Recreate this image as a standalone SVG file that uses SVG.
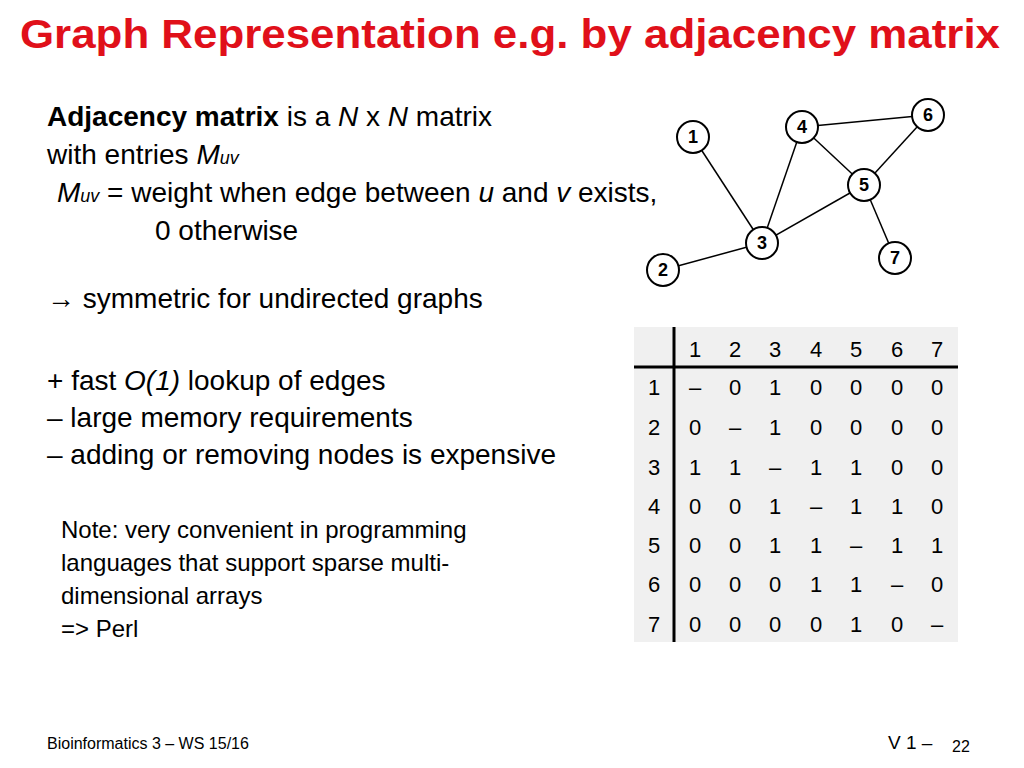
<svg xmlns="http://www.w3.org/2000/svg" width="1024" height="768" viewBox="0 0 1024 768">
<style>
text{font-family:"Liberation Sans",Arial,sans-serif;fill:#000}
.b{font-size:28px}
.s{font-size:24px}
.m{font-size:22px;text-anchor:middle}
.n circle{fill:#fff;stroke:#000;stroke-width:2}
.n text{font-size:18px;font-weight:bold;text-anchor:middle}
</style>
<rect width="1024" height="768" fill="#fff"/>
<text x="20" y="48" font-size="40" font-weight="bold" textLength="980" lengthAdjust="spacingAndGlyphs" style="fill:#e0101a">Graph Representation e.g. by adjacency matrix</text>
<text class="b" x="47" y="126"><tspan font-weight="bold">Adjacency matrix</tspan> is a <tspan font-style="italic">N</tspan> x <tspan font-style="italic">N</tspan> matrix</text>
<text class="b" x="47" y="164">with entries <tspan font-style="italic">M</tspan><tspan font-style="italic" font-size="18">uv</tspan></text>
<text class="b" x="57" y="202"><tspan font-style="italic">M</tspan><tspan font-style="italic" font-size="18">uv</tspan> = weight when edge between <tspan font-style="italic">u</tspan> and <tspan font-style="italic">v</tspan> exists,</text>
<text class="b" x="155" y="240">0 otherwise</text>
<text class="b" x="47" y="308">→ symmetric for undirected graphs</text>
<text class="b" x="47" y="390">+ fast <tspan font-style="italic">O(1)</tspan> lookup of edges</text>
<text class="b" x="47" y="427">– large memory requirements</text>
<text class="b" x="47" y="464">– adding or removing nodes is expensive</text>
<text class="s" x="61" y="538">Note: very convenient in programming</text>
<text class="s" x="61" y="571">languages that support sparse multi-</text>
<text class="s" x="61" y="604">dimensional arrays</text>
<text class="s" x="61" y="637">=&gt; Perl</text>
<text x="47" y="749" font-size="16">Bioinformatics 3 – WS 15/16</text>
<text x="888" y="749" font-size="19">V 1 –</text>
<text x="952" y="752" font-size="16">22</text>
<g id="edges" stroke="#000" stroke-width="1.5">
<line x1="693" y1="137" x2="762" y2="243"/>
<line x1="663" y1="270" x2="762" y2="243"/>
<line x1="802" y1="127" x2="762" y2="243"/>
<line x1="864" y1="185" x2="762" y2="243"/>
<line x1="802" y1="127" x2="864" y2="185"/>
<line x1="802" y1="127" x2="928" y2="115"/>
<line x1="928" y1="115" x2="864" y2="185"/>
<line x1="864" y1="185" x2="895" y2="258"/>
</g>
<g id="n1" class="n"><circle cx="693" cy="137" r="16"/><text x="693" y="143">1</text></g>
<g id="n2" class="n"><circle cx="663" cy="270" r="16"/><text x="663" y="276">2</text></g>
<g id="n3" class="n"><circle cx="762" cy="243" r="16"/><text x="762" y="249">3</text></g>
<g id="n4" class="n"><circle cx="802" cy="127" r="16"/><text x="802" y="133">4</text></g>
<g id="n5" class="n"><circle cx="864" cy="185" r="16"/><text x="864" y="191">5</text></g>
<g id="n6" class="n"><circle cx="928" cy="115" r="16"/><text x="928" y="121">6</text></g>
<g id="n7" class="n"><circle cx="895" cy="258" r="16"/><text x="895" y="264">7</text></g>
<g id="matrix">
<rect x="634" y="327" width="324" height="315" fill="#f0f0f0"/>
<line x1="674" y1="327" x2="674" y2="642" stroke="#000" stroke-width="3"/>
<line x1="634" y1="367" x2="958" y2="367" stroke="#000" stroke-width="3"/>
<text class="m" x="695" y="357">1</text><text class="m" x="735" y="357">2</text><text class="m" x="775" y="357">3</text><text class="m" x="816" y="357">4</text><text class="m" x="856" y="357">5</text><text class="m" x="897" y="357">6</text><text class="m" x="937" y="357">7</text>
<text class="m" x="654" y="395">1</text><text class="m" x="695" y="395">–</text><text class="m" x="735" y="395">0</text><text class="m" x="775" y="395">1</text><text class="m" x="816" y="395">0</text><text class="m" x="856" y="395">0</text><text class="m" x="897" y="395">0</text><text class="m" x="937" y="395">0</text>
<text class="m" x="654" y="435">2</text><text class="m" x="695" y="435">0</text><text class="m" x="735" y="435">–</text><text class="m" x="775" y="435">1</text><text class="m" x="816" y="435">0</text><text class="m" x="856" y="435">0</text><text class="m" x="897" y="435">0</text><text class="m" x="937" y="435">0</text>
<text class="m" x="654" y="475">3</text><text class="m" x="695" y="475">1</text><text class="m" x="735" y="475">1</text><text class="m" x="775" y="475">–</text><text class="m" x="816" y="475">1</text><text class="m" x="856" y="475">1</text><text class="m" x="897" y="475">0</text><text class="m" x="937" y="475">0</text>
<text class="m" x="654" y="514">4</text><text class="m" x="695" y="514">0</text><text class="m" x="735" y="514">0</text><text class="m" x="775" y="514">1</text><text class="m" x="816" y="514">–</text><text class="m" x="856" y="514">1</text><text class="m" x="897" y="514">1</text><text class="m" x="937" y="514">0</text>
<text class="m" x="654" y="553">5</text><text class="m" x="695" y="553">0</text><text class="m" x="735" y="553">0</text><text class="m" x="775" y="553">1</text><text class="m" x="816" y="553">1</text><text class="m" x="856" y="553">–</text><text class="m" x="897" y="553">1</text><text class="m" x="937" y="553">1</text>
<text class="m" x="654" y="592">6</text><text class="m" x="695" y="592">0</text><text class="m" x="735" y="592">0</text><text class="m" x="775" y="592">0</text><text class="m" x="816" y="592">1</text><text class="m" x="856" y="592">1</text><text class="m" x="897" y="592">–</text><text class="m" x="937" y="592">0</text>
<text class="m" x="654" y="632">7</text><text class="m" x="695" y="632">0</text><text class="m" x="735" y="632">0</text><text class="m" x="775" y="632">0</text><text class="m" x="816" y="632">0</text><text class="m" x="856" y="632">1</text><text class="m" x="897" y="632">0</text><text class="m" x="937" y="632">–</text>
</g>
</svg>
